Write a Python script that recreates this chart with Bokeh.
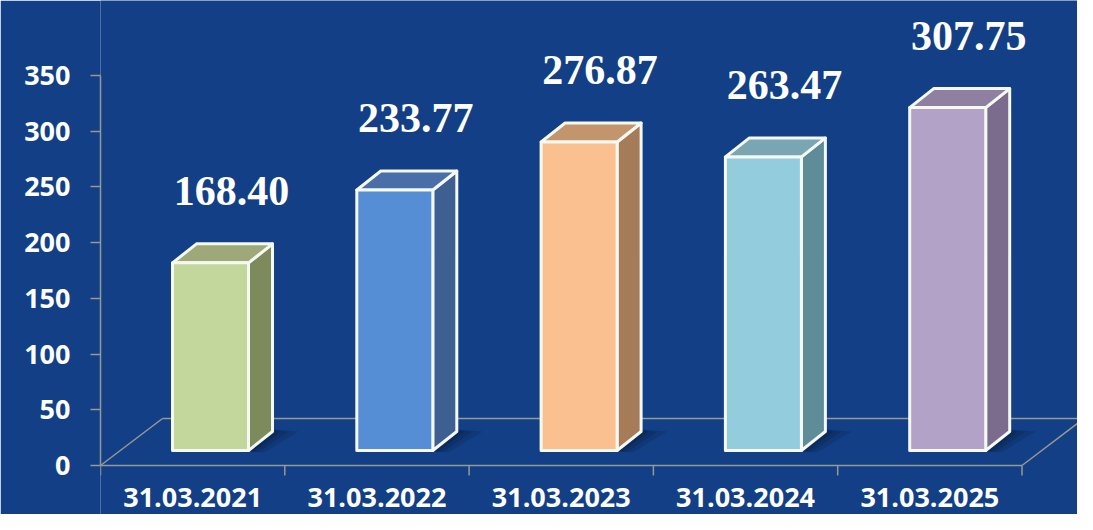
from bokeh.plotting import figure
from bokeh.models import FixedTicker, Range1d
from bokeh.embed import file_html
from bokeh.resources import INLINE
from bokeh.core.properties import value

# ---------------- data ----------------
categories = ["31.03.2021", "31.03.2022", "31.03.2023", "31.03.2024", "31.03.2025"]
values = [168.40, 233.77, 276.87, 263.47, 307.75]
value_labels = ["168.40", "233.77", "276.87", "263.47", "307.75"]
y_ticks = [0, 50, 100, 150, 200, 250, 300, 350]

front_colors = ["#c3d69b", "#558ed5", "#fac090", "#93cddd", "#b3a2c7"]
top_colors = ["#9ea878", "#4a6fa8", "#c3956d", "#79a6b2", "#8f80a2"]
side_colors = ["#7d8a5b", "#3e5f92", "#a57b58", "#5e8c99", "#7b6c8d"]

# ---------------- layout constants (pixels) ----------------
W, H = 1077, 514
LEFT = 100
CAT_PX = 184.3                 # pixels per category slot
UNIT_PX = 390.0 / 350.0        # pixels per value unit
ZERO_PY = 465                  # pixel row of value 0 (from plot top)

BG = "#123f85"
AXIS_COL = "#979a94"
TXT = "#ffffff"

x_end = (W - LEFT) / CAT_PX
y_start = -(H - ZERO_PY) / UNIT_PX
y_end = ZERO_PY / UNIT_PX

# geometry converted to data units
BAR_LEFT_OFF = 72 / CAT_PX
BAR_W = 76 / CAT_PX
BAR_BASE = 15 / UNIT_PX
DX = 24 / CAT_PX
DY = 19 / UNIT_PX
FLOOR_DX = 62 / CAT_PX
FLOOR_DY = 47 / UNIT_PX
TICK_LEN = 10 / UNIT_PX
CAT_LABEL_DROP = 41 / UNIT_PX
VAL_LABEL_RISE = 72 / UNIT_PX
VAL_LABEL_SHIFT = 21 / CAT_PX

p = figure(width=W, height=H, output_backend="svg", toolbar_location=None,
           x_range=Range1d(0, x_end), y_range=Range1d(y_start, y_end),
           x_axis_location=None, y_axis_location="left",
           min_border_left=LEFT, min_border_right=0,
           min_border_top=0, min_border_bottom=0)
p.background_fill_color = BG
p.border_fill_color = BG
p.outline_line_color = None
p.grid.visible = False

# y axis
ax = p.yaxis[0]
ax.ticker = FixedTicker(ticks=y_ticks, minor_ticks=[])
ax.bounds = (y_ticks[0], y_ticks[-1])
ax.axis_line_color = AXIS_COL
ax.axis_line_width = 1.5
ax.major_tick_line_color = AXIS_COL
ax.major_tick_line_width = 1.5
ax.major_tick_out = 10
ax.major_tick_in = 0
ax.minor_tick_line_color = None
ax.major_label_standoff = 20
ax.major_label_text_color = TXT
ax.major_label_text_font = "Open Sans"
ax.major_label_text_font_style = "bold"
ax.major_label_text_font_size = "27px"

n = len(categories)

# floor (3D base plane) + category axis
p.segment(x0=[0, 0, FLOOR_DX, n], y0=[0, 0, FLOOR_DY, 0],
          x1=[n, FLOOR_DX, n + FLOOR_DX, n + FLOOR_DX],
          y1=[0, FLOOR_DY, FLOOR_DY, FLOOR_DY],
          line_color=AXIS_COL, line_width=1.5)
tick_x = list(range(n + 1))
p.segment(x0=tick_x, y0=[0] * len(tick_x), x1=tick_x, y1=[-TICK_LEN] * len(tick_x),
          line_color=AXIS_COL, line_width=1.5)

# shadows, bars
shadow_xs, shadow_ys = [], []
fx, fy, tx, ty, sx, sy = [], [], [], [], [], []
lab_x, lab_y = [], []
for i, v in enumerate(values):
    x0 = i + BAR_LEFT_OFF
    x1 = x0 + BAR_W
    y0 = BAR_BASE
    y1 = BAR_BASE + v
    for k in (8, 16, 26):
        ext = k / CAT_PX
        shadow_xs.append([x1 - 4 / CAT_PX, x1 + DX, x1 + DX + ext, x1 + ext * 0.6])
        shadow_ys.append([y0, y0 + DY + 2 / UNIT_PX, y0 + DY, y0 - 2 / UNIT_PX])
    fx.append([x0, x1, x1, x0]); fy.append([y0, y0, y1, y1])
    tx.append([x0, x1, x1 + DX, x0 + DX]); ty.append([y1, y1, y1 + DY, y1 + DY])
    sx.append([x1, x1 + DX, x1 + DX, x1]); sy.append([y0, y0 + DY, y1 + DY, y1])
    lab_x.append(x0 + BAR_W / 2 + VAL_LABEL_SHIFT)
    lab_y.append(y1 + VAL_LABEL_RISE)

p.patches(xs=shadow_xs, ys=shadow_ys, fill_color="#000000", fill_alpha=0.11, line_color=None)
p.patches(xs=sx, ys=sy, fill_color=side_colors, line_color="#f6f8f2", line_width=3, line_join="round")
p.patches(xs=tx, ys=ty, fill_color=top_colors, line_color="#f6f8f2", line_width=3, line_join="round")
p.patches(xs=fx, ys=fy, fill_color=front_colors, line_color="#f6f8f2", line_width=3, line_join="round")

# value labels
p.text(x=lab_x, y=lab_y, text=value_labels, text_color=TXT,
       text_font=value("Liberation Serif"), text_font_style="bold",
       text_font_size="42px", text_align="center", text_baseline="alphabetic")

# category labels
cat_x = [i + 0.5 for i in range(n)]
p.text(x=cat_x, y=[-CAT_LABEL_DROP] * n, text=categories, text_color=TXT,
       text_font=value("Open Sans"), text_font_style="bold",
       text_font_size="27px", text_align="center", text_baseline="bottom")

open("out.html", "w").write(file_html(p, INLINE))
